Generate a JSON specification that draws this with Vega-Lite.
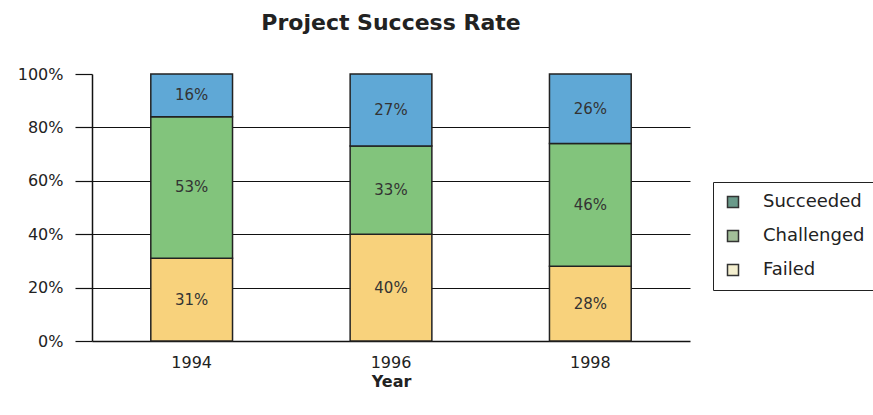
{
  "$schema": "https://vega.github.io/schema/vega-lite/v6.json",
  "width": 598,
  "height": 267,
  "autosize": "none",
  "padding": {"left": 92, "top": 74, "right": 183, "bottom": 74},
  "background": "white",
  "title": {"text": "Project Success Rate", "fontSize": 22, "fontWeight": "bold", "font": "DejaVu Sans", "color": "#222", "anchor": "middle", "offset": 31},
  "config": {"view": {"stroke": null}, "font": "DejaVu Sans"},
  "data": {"values": [
    {"year": "1994", "status": "Failed", "rank": 1, "value": 0.31},
    {"year": "1994", "status": "Challenged", "rank": 2, "value": 0.53},
    {"year": "1994", "status": "Succeeded", "rank": 3, "value": 0.16},
    {"year": "1996", "status": "Failed", "rank": 1, "value": 0.40},
    {"year": "1996", "status": "Challenged", "rank": 2, "value": 0.33},
    {"year": "1996", "status": "Succeeded", "rank": 3, "value": 0.27},
    {"year": "1998", "status": "Failed", "rank": 1, "value": 0.28},
    {"year": "1998", "status": "Challenged", "rank": 2, "value": 0.46},
    {"year": "1998", "status": "Succeeded", "rank": 3, "value": 0.26}
  ]},
  "transform": [
    {"stack": "value", "groupby": ["year"], "sort": [{"field": "rank", "order": "ascending"}], "as": ["v0", "v1"]},
    {"calculate": "(datum.v0 + datum.v1) / 2", "as": "mid"}
  ],
  "encoding": {
    "x": {"field": "year", "type": "nominal", "title": "Year",
      "scale": {"paddingInner": 0.59, "paddingOuter": 0.295},
      "axis": {"labelAngle": 0, "ticks": false, "tickSize": 0, "labelPadding": 13, "labelFontSize": 16, "labelColor": "#222",
        "domainColor": "#111", "domainWidth": 1.5, "titleFontSize": 16, "titleFontWeight": "bold", "titleColor": "#222", "titlePadding": 3}}
  },
  "layer": [
    {"mark": {"type": "bar", "stroke": "#222", "strokeWidth": 1.5},
     "encoding": {
       "y": {"field": "v0", "type": "quantitative", "title": null,
         "scale": {"domain": [0, 1], "nice": false},
         "axis": {"values": [0, 0.2, 0.4, 0.6, 0.8, 1], "format": ".0%", "grid": true, "gridColor": "#111", "gridWidth": 1.2,
           "gridOpacity": {"condition": {"test": "datum.value == 1 || datum.value == 0", "value": 0}, "value": 1},
           "tickSize": 17, "tickColor": "#111", "tickWidth": 1.2, "labelPadding": 12, "labelFontSize": 16, "labelColor": "#222",
           "domainColor": "#111", "domainWidth": 1.5}},
       "y2": {"field": "v1"},
       "color": {"field": "status", "type": "nominal", "legend": null,
         "scale": {"domain": ["Failed", "Challenged", "Succeeded"], "range": ["#f8d27c", "#82c47c", "#5fa8d6"]}},
       "order": {"field": "rank", "type": "quantitative"}
     }},
    {"mark": {"type": "bar", "strokeWidth": 0},
     "encoding": {
       "y": {"datum": 0, "type": "quantitative"},
       "y2": {"datum": 0},
       "fill": {"field": "status", "type": "nominal", "title": null,
         "scale": {"domain": ["Succeeded", "Challenged", "Failed"], "range": ["#6a9a8a", "#a3bf99", "#f4efcf"]},
         "legend": {"orient": "none", "legendX": 621, "legendY": 108, "symbolType": "square", "symbolSize": 121,
           "symbolStrokeColor": "#333", "symbolStrokeWidth": 1.5, "labelFontSize": 18, "labelColor": "#222", "labelOffset": 21,
           "rowPadding": 16, "padding": 11, "strokeColor": "#222", "fillColor": "white"}}
     }},
    {"mark": {"type": "text", "fontSize": 15, "color": "#333"},
     "encoding": {
       "y": {"field": "mid", "type": "quantitative"},
       "text": {"field": "value", "type": "quantitative", "format": ".0%"}}}
  ]
}
